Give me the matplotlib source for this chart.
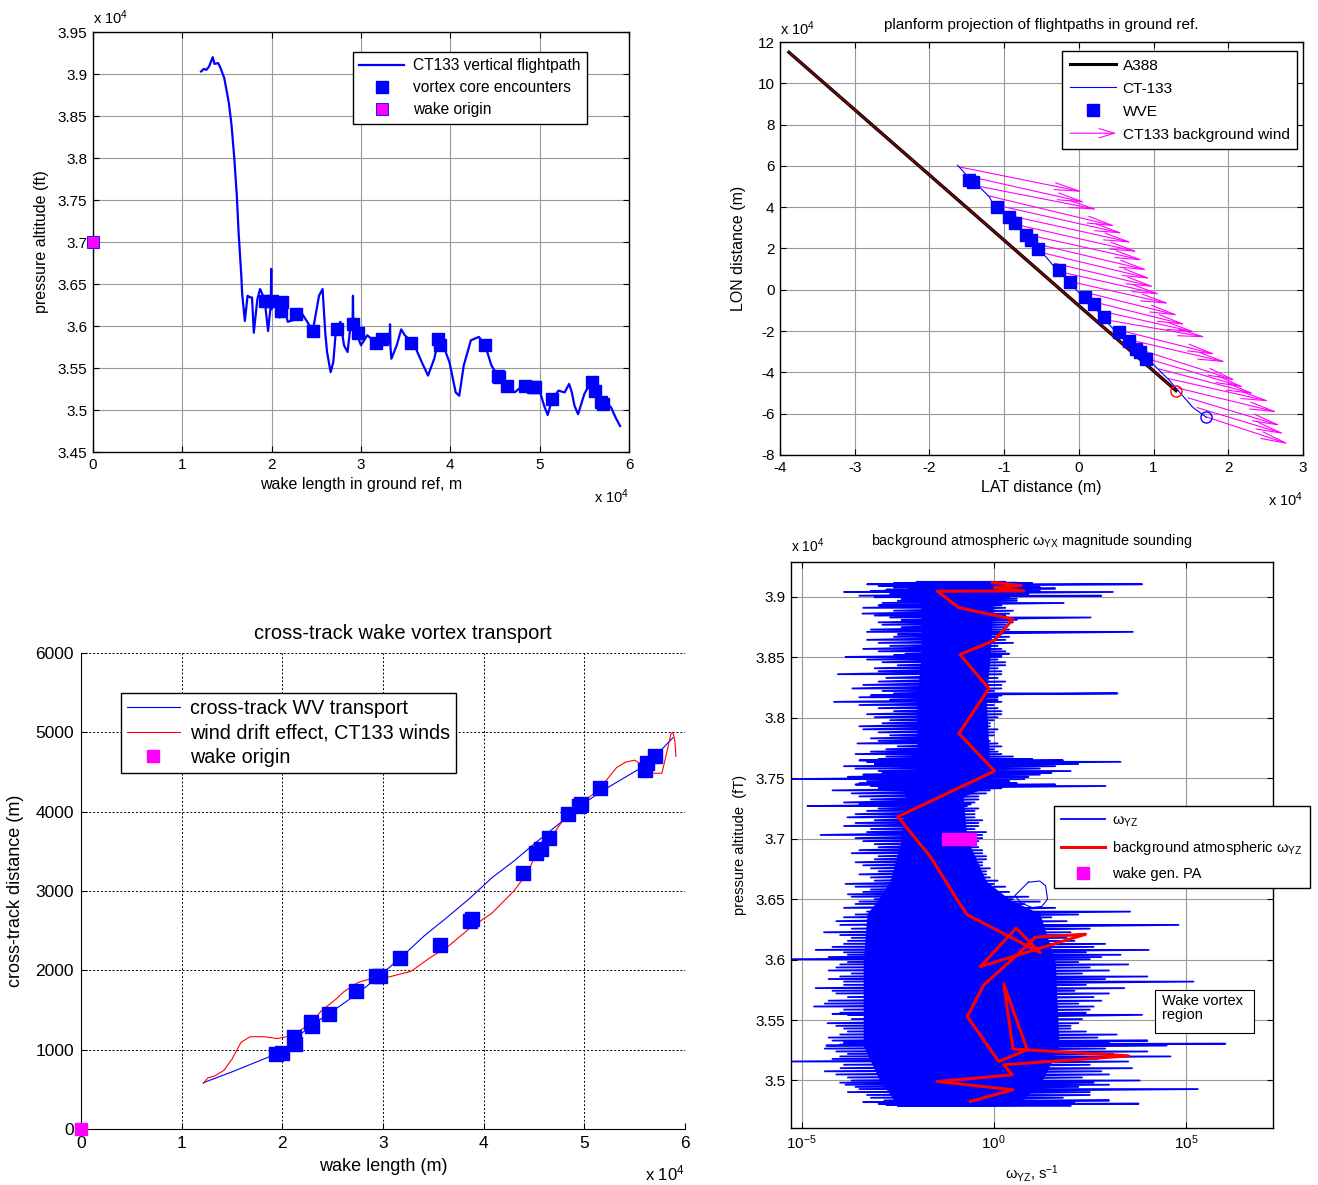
import numpy as np
import matplotlib
matplotlib.use("Agg")
import matplotlib.pyplot as plt
from matplotlib.lines import Line2D
from matplotlib.patches import FancyArrowPatch, Rectangle
from matplotlib.legend_handler import HandlerBase

plt.rcParams['font.family'] = ['Liberation Sans', 'DejaVu Sans']
plt.rcParams['mathtext.fontset'] = 'custom'
plt.rcParams['mathtext.rm'] = 'Liberation Sans'
plt.rcParams['mathtext.it'] = 'Liberation Sans:italic'
plt.rcParams['axes.unicode_minus'] = False

# ---------------------------------------------------------------
# vertical flightpath (x 1e4 m, x 1e4 ft)
# ---------------------------------------------------------------
fp_x = [1.21, 1.24, 1.27, 1.30, 1.34, 1.36, 1.40, 1.42, 1.47, 1.52, 1.55, 1.58,
        1.61, 1.63, 1.66, 1.67, 1.70, 1.73, 1.76, 1.78, 1.80, 1.84, 1.87, 1.92,
        1.96, 1.99, 1.995, 2.00, 2.01, 2.09, 2.13, 2.18, 2.27, 2.32, 2.41, 2.46,
        2.53, 2.57, 2.60, 2.62, 2.66, 2.69, 2.72, 2.77, 2.81, 2.85, 2.88, 2.905,
        2.91, 2.915, 2.93, 3.00, 3.07, 3.17, 3.26, 3.32, 3.325, 3.33, 3.34, 3.40,
        3.45, 3.49, 3.59, 3.68, 3.75, 3.82, 3.87, 3.92, 3.99, 4.06, 4.10, 4.15,
        4.23, 4.32, 4.39, 4.46, 4.53, 4.63, 4.72, 4.81, 4.93, 5.00, 5.05, 5.09,
        5.14, 5.21, 5.28, 5.33, 5.36, 5.39, 5.43, 5.50, 5.57, 5.61, 5.66, 5.76,
        5.80, 5.85, 5.90]
fp_alt = [3.903, 3.906, 3.905, 3.909, 3.920, 3.912, 3.913, 3.909, 3.895, 3.866,
          3.840, 3.802, 3.755, 3.711, 3.660, 3.638, 3.606, 3.636, 3.634, 3.634,
          3.592, 3.632, 3.644, 3.632, 3.594, 3.625, 3.668, 3.620, 3.632, 3.610,
          3.630, 3.605, 3.608, 3.618, 3.603, 3.594, 3.636, 3.644, 3.592, 3.569,
          3.545, 3.557, 3.596, 3.605, 3.577, 3.569, 3.598, 3.598, 3.636, 3.596,
          3.596, 3.577, 3.589, 3.580, 3.585, 3.580, 3.602, 3.575, 3.561, 3.577,
          3.596, 3.589, 3.579, 3.557, 3.541, 3.561, 3.585, 3.577, 3.557, 3.521,
          3.517, 3.553, 3.583, 3.587, 3.577, 3.553, 3.541, 3.529, 3.521, 3.529,
          3.529, 3.523, 3.505, 3.494, 3.513, 3.523, 3.521, 3.531, 3.521, 3.505,
          3.495, 3.519, 3.533, 3.525, 3.509, 3.507, 3.503, 3.491, 3.481]
enc_x = [1.93, 2.00, 2.10, 2.12, 2.27, 2.46, 2.73, 2.91, 2.97, 3.17, 3.24, 3.56,
         3.86, 3.88, 4.39, 4.53, 4.55, 4.63, 4.84, 4.93, 4.95, 5.14, 5.59, 5.62,
         5.69, 5.71]
enc_alt = [3.630, 3.630, 3.618, 3.628, 3.614, 3.594, 3.596, 3.602, 3.592, 3.580,
           3.585, 3.580, 3.585, 3.577, 3.577, 3.541, 3.539, 3.529, 3.529, 3.527,
           3.527, 3.513, 3.533, 3.523, 3.509, 3.507]
origin_alt = 3.70

# ---------------------------------------------------------------
# planform projection (x 1e4 m)
# ---------------------------------------------------------------
a388_lat = [-3.88, -3.0, -2.0, -1.0, 0.0, 1.0, 1.30]
a388_lon = [11.50, 8.72, 5.56, 2.40, -0.77, -3.93, -4.88]
ct_lat = [-1.622, -1.421, -1.331, -1.197, -1.153, -1.099, -0.929, -0.818, -0.705,
          -0.594, -0.527, -0.437, -0.326, -0.259, -0.125, 0.054, 0.188, 0.322,
          0.479, 0.613, 0.747, 0.881, 0.992, 1.082, 1.216, 1.350, 1.528, 1.708]
ct_lon = [6.03, 5.22, 4.98, 4.50, 4.17, 4.01, 3.53, 3.12, 2.64, 2.15, 1.91, 1.58,
          1.10, 0.86, 0.37, -0.36, -0.76, -1.33, -1.98, -2.43, -2.95, -3.35,
          -3.59, -3.92, -4.40, -4.97, -5.70, -6.18]
wve_lat = [-1.474, -1.421, -1.099, -0.929, -0.849, -0.714, -0.638, -0.549, -0.268,
           -0.125, 0.076, 0.197, 0.335, 0.536, 0.666, 0.769, 0.814, 0.903]
wve_lon = [5.34, 5.22, 4.01, 3.53, 3.23, 2.64, 2.39, 1.99, 0.94, 0.37, -0.33,
           -0.71, -1.30, -2.02, -2.46, -2.86, -3.03, -3.35]
wind_lat = [-1.60, -1.47, -1.35, -1.22, -1.09, -0.96, -0.84, -0.71, -0.58, -0.45,
            -0.33, -0.20, -0.07, 0.06, 0.18, 0.31, 0.44, 0.56, 0.69, 0.82, 0.95,
            1.07, 1.20, 1.33, 1.46, 1.58, 1.71]
wind_lon = [5.95, 5.49, 5.02, 4.56, 4.09, 3.62, 3.16, 2.69, 2.23, 1.76, 1.29, 0.83,
            0.36, -0.10, -0.57, -1.04, -1.50, -1.97, -2.43, -2.90, -3.37, -3.83,
            -4.30, -4.76, -5.23, -5.70, -6.16]
wind_u = [1.66, 1.57, 1.61, 1.72, 1.69, 1.68, 1.64, 1.58, 1.51, 1.42, 1.35, 1.30,
          1.29, 1.28, 1.26, 1.26, 1.27, 1.28, 1.29, 1.29, 1.27, 1.29, 1.36, 1.34,
          1.25, 1.18, 1.11]
wind_v = [-1.21, -1.27, -1.14, -1.49, -1.37, -1.34, -1.33, -1.27, -1.29, -1.23,
          -1.16, -1.06, -1.04, -1.15, -1.13, -1.02, -0.80, -1.17, -1.08, -1.50,
          -1.36, -1.22, -1.11, -1.18, -1.36, -1.29, -1.32]

# ---------------------------------------------------------------
# cross-track transport (x 1e4 m, m)
# ---------------------------------------------------------------
wv_x = [1.216, 1.50, 1.86, 1.94, 2.00, 2.13, 2.30, 2.46, 2.75, 2.97, 3.19, 3.41,
        3.64, 3.86, 4.08, 4.30, 4.52, 4.75, 4.97, 5.19, 5.41, 5.63, 5.88]
wv_y = [584, 720, 905, 955, 990, 1140, 1320, 1450, 1710, 1935, 2176, 2435, 2671,
        2906, 3165, 3377, 3613, 3848, 4084, 4272, 4437, 4602, 4932]
drift_x = [1.216, 1.26, 1.33, 1.42, 1.50, 1.59, 1.68, 1.82, 1.95, 2.04, 2.13, 2.26,
           2.39, 2.53, 2.61, 2.75, 2.88, 3.06, 3.28, 3.46, 3.64, 3.86, 4.08, 4.30,
           4.44, 4.52, 4.66, 4.79, 4.97, 5.14, 5.32, 5.41, 5.50, 5.59, 5.68, 5.77,
           5.81, 5.86, 5.88, 5.90, 5.91]
drift_y = [575, 645, 669, 740, 881, 1093, 1163, 1163, 1140, 1163, 1211, 1305, 1493,
           1634, 1729, 1847, 1894, 1917, 1988, 2153, 2294, 2529, 2718, 3000, 3236,
           3471, 3660, 3895, 4107, 4272, 4555, 4625, 4649, 4578, 4484, 4484, 4696,
           4979, 5002, 4885, 4696]
xt_enc_x = [1.94, 2.00, 2.12, 2.13, 2.28, 2.29, 2.46, 2.73, 2.93, 2.97, 3.17, 3.57,
            3.86, 3.88, 4.39, 4.52, 4.57, 4.65, 4.84, 4.95, 4.97, 5.16, 5.60, 5.62,
            5.70]
xt_enc_y = [951, 961, 1163, 1069, 1352, 1295, 1446, 1738, 1927, 1927, 2153, 2317,
            2624, 2647, 3222, 3481, 3528, 3674, 3976, 4070, 4093, 4296, 4531, 4616,
            4696]

# ---------------------------------------------------------------
# omega_YZ sounding (log10 s^-1, ft)
# long excursions of the trace
# ---------------------------------------------------------------
snd_alt = [39125, 39105, 39080, 39060, 39041, 39010, 38985, 38950, 38910, 38862,
           38830, 38790, 38750, 38711, 38670, 38620, 38570, 38530, 38504, 38460,
           38410, 38361, 38300, 38243, 38202, 38170, 38132, 38080, 38030, 37980,
           37930, 37880, 37830, 37788, 37740, 37700, 37660, 37636, 37600, 37560,
           37530, 37493, 37460, 37436, 37400, 37350, 37300, 37270, 37230, 37177,
           37130, 37080, 37031, 36980, 36930, 36880, 36830, 36780, 36730, 36680,
           36626, 36580, 36540, 36500, 36460, 36397, 36350, 36287, 36226, 36180,
           36130, 36080, 36040, 36003, 35960, 35910, 35860, 35818, 35764, 35720,
           35660, 35612, 35560, 35543, 35474, 35430, 35380, 35330, 35304, 35289,
           35240, 35199, 35157, 35102, 35050, 35000, 34965, 34929, 34880, 34835,
           34808, 34790]
snd_left = [-2.0, -3.3, -2.6, -2.8, -3.9, -3.5, -2.4, -2.9, -3.4, -3.42, -2.7, -3.0,
            -2.4, -3.3, -2.6, -3.0, -3.4, -2.3, -3.86, -2.9, -3.1, -4.06, -3.0, -3.68,
            -2.6, -3.5, -4.16, -3.0, -3.3, -2.7, -3.5, -3.0, -3.2, -3.55, -2.8, -3.6,
            -3.0, -3.3, -3.9, -3.0, -3.4, -5.4, -3.5, -3.2, -4.2, -3.5, -3.9, -4.85,
            -3.3, -3.81, -3.6, -3.2, -4.51, -3.4, -3.0, -3.7, -3.1, -3.4, -3.0, -3.2,
            -3.86, -3.2, -3.8, -3.1, -3.6, -3.3, -3.9, -4.0, -4.42, -3.7, -3.9, -4.64,
            -3.8, -5.4, -4.0, -4.3, -4.0, -3.9, -4.64, -4.1, -4.3, -4.68, -4.0, -3.8,
            -4.33, -3.9, -4.0, -4.2, -3.9, -4.36, -4.1, -4.0, -5.4, -3.99, -4.1, -3.7,
            -3.86, -3.5, -3.3, -2.85, -3.0, -2.5]
snd_right = [0.3, 3.86, 1.2, 0.9, 3.1, 2.8, 0.6, 1.82, 0.3, 0.4, 2.52, 0.5, 0.3,
             3.62, 0.4, 0.5, 0.2, 0.4, 0.2, 0.3, 0.1, 0.2, 0.3, 0.2, 3.22, 0.1, 0.2,
             0.1, 0.2, 0.0, -0.1, 0.0, -0.2, 0.1, 0.0, 0.2, 1.0, 3.3, 1.6, 2.0, 1.2,
             0.8, 0.6, 2.91, -0.1, -0.4, -0.5, -0.7, -0.5, -0.5, -0.4, -0.5, -0.3,
             -0.4, -0.4, -0.3, -0.2, -0.3, -0.2, -0.1, 0.0, 0.0, 0.1, 0.5, 0.8, 3.55,
             1.5, 4.81, 2.0, 1.9, 2.9, 4.03, 3.3, 2.5, 3.5, 3.0, 4.0, 5.20, 3.4, 3.0,
             2.8, 2.6, 2.4, 3.86, 2.2, 2.0, 3.2, 4.0, 6.03, 4.5, 4.0, 4.6, 3.5, 3.6,
             3.0, 3.8, 3.0, 5.31, 2.5, 3.0, 3.77, 2.0]
# shorter excursions in between
snd_alt2 = [39115, 39092, 39070, 39050, 39025, 38998, 38968, 38930, 38886, 38846,
            38810, 38770, 38730, 38690, 38645, 38595, 38550, 38517, 38482, 38435,
            38385, 38330, 38272, 38222, 38186, 38150, 38106, 38055, 38005, 37955,
            37905, 37855, 37809, 37764, 37720, 37680, 37648, 37618, 37580, 37545,
            37512, 37476, 37448, 37418, 37375, 37325, 37285, 37250, 37203, 37153,
            37105, 37055, 37005, 36955, 36905, 36855, 36805, 36755, 36705, 36653,
            36603, 36560, 36520, 36480, 36428, 36373, 36318, 36256, 36203, 36155,
            36105, 36060, 36021, 35980, 35935, 35885, 35839, 35791, 35742, 35690,
            35636, 35586, 35551, 35508, 35452, 35405, 35355, 35317, 35296, 35264,
            35220, 35178, 35130, 35076, 35025, 34982, 34947, 34904, 34857, 34821,
            34799]
snd_left2 = [-2.6, -3.0, -2.2, -3.2, -2.7, -3.1, -2.5, -3.0, -2.6, -3.1,
             -2.4, -2.9, -3.2, -2.5, -3.3, -2.7, -3.0, -2.6, -3.3, -2.5,
             -3.0, -2.8, -3.4, -2.9, -3.2, -2.7, -3.5, -2.6, -3.1, -2.9,
             -3.4, -2.7, -3.0, -2.5, -3.2, -2.8, -3.5, -3.1, -3.6, -2.9,
             -3.8, -3.3, -3.6, -3.0, -3.7, -3.2, -3.5, -3.0, -3.6, -3.1,
             -3.9, -3.3, -3.6, -3.1, -3.5, -3.0, -3.6, -3.2, -3.5, -3.1,
             -3.6, -3.4, -3.7, -3.5, -3.9, -3.6, -4.1, -3.7, -4.0, -3.8,
             -4.2, -3.9, -4.3, -3.8, -4.1, -3.7, -4.3, -3.9, -4.2, -3.8,
             -4.4, -3.9, -4.2, -3.7, -4.1, -3.8, -4.3, -3.9, -4.0, -4.4,
             -3.8, -4.2, -3.9, -4.4, -3.8, -4.0, -3.6, -3.8, -3.2, -3.4,
             -2.8]
snd_right2 = [1.0, 0.8, 1.6, 1.2, 0.9, 0.4, 0.6, 0.2, 0.5, 0.3,
              0.6, 0.3, 0.4, 0.2, 0.3, 0.1, 0.3, 0.2, 0.1, 0.3,
              0.2, 0.1, 0.2, 0.0, 0.2, 0.1, 0.0, 0.2, 0.1, -0.1,
              0.1, 0.0, -0.1, 0.2, 0.1, 0.5, 1.8, 2.2, 1.2, 1.5,
              0.9, 0.4, 1.6, 0.2, -0.2, -0.4, -0.6, -0.4, -0.5, -0.3,
              -0.4, -0.2, -0.3, -0.5, -0.3, -0.2, -0.3, -0.1, -0.2, 0.1,
              0.3, 0.4, 0.9, 1.2, 1.6, 2.2, 1.9, 2.5, 2.3, 2.1,
              2.6, 2.4, 2.8, 2.2, 2.5, 2.3, 2.9, 2.4, 2.1, 2.6,
              2.2, 2.5, 2.0, 2.3, 2.0, 2.4, 2.7, 3.0, 3.3, 2.9,
              3.1, 2.7, 2.5, 2.8, 2.3, 2.6, 2.2, 2.5, 1.8, 2.1,
              1.5]
core_alt = [39130, 39030, 38990, 38500, 38150, 37600, 37450, 37350, 37000, 36650,
            36500, 36380, 35980, 35290, 35020, 34790]
core_left = [-1.8, -1.8, -1.9, -1.9, -2.0, -2.0, -2.4, -2.3, -2.4, -2.7, -3.0, -3.3,
             -3.4, -3.4, -3.0, -2.5]
core_right = [0.6, 0.6, 0.0, -0.1, -0.2, -0.1, 0.0, -0.8, -0.7, -0.2, 0.4, 1.2, 1.6,
              1.7, 1.3, 0.6]
loop_w = [0.90, 1.20, 1.35, 1.40, 1.25, 1.00, 0.70, 0.55, 0.90]
loop_alt = [36640, 36650, 36610, 36500, 36440, 36430, 36470, 36530, 36640]
bg_w = [-0.04, 0.71, 0.02, 0.78, -1.47, -0.91, 0.50, 0.02, -0.88, -0.13, -0.91,
        0.02, -2.50, -1.65, -0.95, -0.69, 1.21, 0.58, -0.35, 2.39, 1.08, 0.61,
        -0.26, -0.69, 0.13, 0.87, 0.26, 0.50, 3.51, 0.26, 0.48, -1.47, 0.50, -0.61]
bg_alt = [39121, 39094, 39078, 39050, 39047, 38912, 38816, 38642, 38524, 38243,
          37871, 37560, 37182, 36851, 36494, 36370, 36058, 36260, 35942, 36210,
          36185, 36039, 35791, 35529, 35157, 35254, 35800, 35260, 35204, 35130,
          35047, 34992, 34923, 34827]
pa_w = [-1.19, -0.86, -0.62]
pa_alt = [37000, 37000, 37000]


class ArrowHandler(HandlerBase):
    def create_artists(self, legend, orig, xd, yd, width, height, fontsize, trans):
        y = yd + height / 2
        arr = FancyArrowPatch((xd, y), (xd + width, y),
                              arrowstyle='->,head_length=1.0,head_width=0.3',
                              mutation_scale=fontsize, color='magenta', lw=0.8,
                              shrinkA=0, shrinkB=0, transform=trans)
        return [arr]


def matlab_axes(ax, grid_style='-', grid_color='0.6'):
    ax.tick_params(direction='in', top=True, right=True, length=4, width=0.8,
                   labelsize=11, pad=4)
    ax.grid(True, linestyle=grid_style, color=grid_color, lw=0.8)
    ax.set_axisbelow(True)
    for s in ax.spines.values():
        s.set_linewidth(1.0)


def leg_frame(leg):
    f = leg.get_frame()
    f.set_edgecolor('black')
    f.set_linewidth(1.0)
    f.set_alpha(1.0)


fig = plt.figure(figsize=(13.18, 11.85), dpi=100)
W, H = 1318, 1185


def add_ax(l, r, t, b):
    return fig.add_axes([l / W, 1 - b / H, (r - l) / W, (b - t) / H])


# ---- vertical flightpath ----
ax1 = add_ax(93, 629, 32, 452)
matlab_axes(ax1)
ax1.plot(fp_x, fp_alt, color='blue', lw=1.6, label='CT133 vertical flightpath')
ax1.plot(enc_x, enc_alt, 's', color='blue', ms=8, ls='none',
         label='vortex core encounters')
ax1.plot([0], [origin_alt], 's', color='magenta', mec='blue', mew=0.6, ms=8,
         ls='none', clip_on=False, zorder=5, label='wake origin')
ax1.set_xlim(0, 6)
ax1.set_ylim(3.45, 3.95)
ax1.set_xticks(range(0, 7))
ax1.set_yticks(np.arange(3.45, 3.951, 0.05))
ax1.set_yticklabels(['%g' % v for v in np.round(np.arange(3.45, 3.951, 0.05), 2)])
ax1.set_xlabel('wake length in ground ref, m', fontsize=11.5, labelpad=4)
ax1.set_ylabel('pressure altitude (ft)', fontsize=11.5, labelpad=6)
ax1.text(0.0, 1.012, r'x 10$^{4}$', transform=ax1.transAxes, fontsize=10.5,
         ha='left', va='bottom')
ax1.text(1.0, -0.085, r'x 10$^{4}$', transform=ax1.transAxes, fontsize=10.5,
         ha='right', va='top')
leg1 = ax1.legend(loc='upper right', bbox_to_anchor=(0.922, 0.952),
                  borderaxespad=0, fontsize=11.2, fancybox=False,
                  handlelength=2.9, handletextpad=0.6, labelspacing=0.45,
                  borderpad=0.4)
leg_frame(leg1)

# ---- planform projection ----
ax2 = add_ax(780, 1303, 42, 455)
matlab_axes(ax2)
for x0, y0, u, v in zip(wind_lat, wind_lon, wind_u, wind_v):
    ax2.annotate('', xy=(x0 + u, y0 + v), xytext=(x0, y0),
                 arrowprops=dict(arrowstyle='->,head_length=1.8,head_width=0.25',
                                 color='magenta', lw=0.8, shrinkA=0, shrinkB=0))
ax2.plot(a388_lat, a388_lon, color='black', lw=2.4, zorder=3)
ax2.plot(a388_lat, a388_lon, color='#a00000', lw=0.9, zorder=3)
ax2.plot(ct_lat, ct_lon, color='blue', lw=0.8, zorder=3)
ax2.plot(wve_lat, wve_lon, 's', color='blue', ms=9, zorder=4)
ax2.plot(a388_lat[-1], a388_lon[-1], 'o', mfc='none', mec='red', ms=8, zorder=4)
ax2.plot(ct_lat[-1], ct_lon[-1], 'o', mfc='none', mec='blue', ms=8, zorder=4)
ax2.set_xlim(-4, 3)
ax2.set_ylim(-8, 12)
ax2.set_xticks(range(-4, 4))
ax2.set_yticks(range(-8, 13, 2))
ax2.set_title('planform projection of flightpaths in ground ref.', fontsize=11,
              pad=9)
ax2.set_xlabel('LAT distance (m)', fontsize=11.5, labelpad=4)
ax2.set_ylabel('LON distance (m)', fontsize=11.5, labelpad=8)
ax2.text(0.0, 1.01, r'x 10$^{4}$', transform=ax2.transAxes, fontsize=10.5,
         ha='left', va='bottom')
ax2.text(1.0, -0.085, r'x 10$^{4}$', transform=ax2.transAxes, fontsize=10.5,
         ha='right', va='top')
wind_proxy = Line2D([], [], color='magenta')
h2 = [Line2D([], [], color='black', lw=2.2), Line2D([], [], color='blue', lw=0.8),
      Line2D([], [], color='blue', marker='s', ls='none', ms=8), wind_proxy]
leg2 = ax2.legend(h2, ['A388', 'CT-133', 'WVE', 'CT133 background wind'],
                  handler_map={wind_proxy: ArrowHandler()},
                  loc='upper right', bbox_to_anchor=(0.989, 0.978),
                  borderaxespad=0, fontsize=11.1, fancybox=False,
                  handlelength=3.0, handletextpad=0.4, labelspacing=0.58,
                  borderpad=0.5)
leg_frame(leg2)

# ---- cross-track transport ----
ax3 = add_ax(81, 685, 653, 1129)
ax3.tick_params(direction='in', length=4, labelsize=12.5, pad=5)
ax3.grid(True, linestyle=(0, (2, 2)), color='black', lw=0.7)
ax3.spines['top'].set_visible(False)
ax3.spines['right'].set_visible(False)
ax3.plot(wv_x, wv_y, color='blue', lw=0.8, label='cross-track WV transport')
ax3.plot(drift_x, drift_y, color='red', lw=0.8,
         label='wind drift effect, CT133 winds')
ax3.plot(xt_enc_x, xt_enc_y, 's', color='blue', ms=10, zorder=4)
ax3.plot([0], [0], 's', color='magenta', ms=9, clip_on=False, zorder=5,
         label='wake origin')
ax3.set_xlim(0, 6)
ax3.set_ylim(0, 6000)
ax3.set_xticks(range(0, 7))
ax3.set_yticks(range(0, 6001, 1000))
ax3.set_title('cross-track wake vortex transport', fontsize=14.5, pad=10,
              x=0.533)
ax3.set_xlabel('wake length (m)', fontsize=13, labelpad=5)
ax3.set_ylabel('cross-track distance (m)', fontsize=13, labelpad=8)
ax3.text(1.0, -0.072, r'x 10$^{4}$', transform=ax3.transAxes, fontsize=12,
         ha='right', va='top')
leg3 = ax3.legend(loc='upper left', bbox_to_anchor=(0.066, 0.916),
                  borderaxespad=0, fontsize=14.2, fancybox=False,
                  handlelength=2.7, handletextpad=0.5, labelspacing=0.28,
                  borderpad=0.3)
leg_frame(leg3)

# ---- omega_YZ sounding ----
ax4 = add_ax(791, 1273, 562, 1128)
matlab_axes(ax4)
ax4.set_xscale('log')
trace_alt = np.concatenate([snd_alt, snd_alt2]) / 1e4
trace_left = np.concatenate([snd_left, snd_left2])
trace_right = np.concatenate([snd_right, snd_right2])
order = np.argsort(-trace_alt)
zig_w = np.ravel(np.column_stack([trace_left[order], trace_right[order]]))
zig_alt = np.ravel(np.column_stack([trace_alt[order], trace_alt[order]]))
ax4.fill_betweenx(np.array(core_alt) / 1e4, 10.0 ** np.array(core_left),
                  10.0 ** np.array(core_right), color='blue', lw=0)
ax4.plot(10.0 ** zig_w, zig_alt, color='blue', lw=1.3, label=r'ω$_{\mathrm{YZ}}$')
ax4.plot(10.0 ** np.array(loop_w), np.array(loop_alt) / 1e4, color='blue', lw=0.8)
ax4.plot(10.0 ** np.array(bg_w), np.array(bg_alt) / 1e4, color='red', lw=2.2,
         label=r'background atmospheric ω$_{\mathrm{YZ}}$')
ax4.plot(10.0 ** np.array(pa_w), np.array(pa_alt) / 1e4, 's', color='magenta',
         ms=8, ls='none', label='wake gen. PA')
ax4.set_xlim(10 ** -5.28, 10 ** 7.27)
ax4.set_ylim(3.4607, 3.9289)
ax4.set_xticks([1e-5, 1e0, 1e5])
ax4.set_xticklabels([r'10$^{-5}$', r'10$^{0}$', r'10$^{5}$'])
ax4.xaxis.set_minor_locator(matplotlib.ticker.NullLocator())
ax4.set_yticks(np.arange(3.5, 3.901, 0.05))
ax4.set_yticklabels(['%g' % v for v in np.round(np.arange(3.5, 3.901, 0.05), 2)])
ax4.set_title(r'background atmospheric ω$_{\mathrm{YX}}$ magnitude sounding',
              fontsize=10.4, pad=12)
ax4.set_xlabel(r'ω$_{\mathrm{YZ}}$, s$^{-1}$', fontsize=10.5, labelpad=8)
ax4.set_ylabel('pressure altitude  (fT)', fontsize=10.5, labelpad=6)
ax4.text(0.0, 1.012, r'x 10$^{4}$', transform=ax4.transAxes, fontsize=10,
         ha='left', va='bottom')
leg4 = ax4.legend(loc='upper left', bbox_to_anchor=(0.546, 0.569),
                  borderaxespad=0, fontsize=10.5, fancybox=False,
                  handlelength=3.0, handletextpad=0.45, labelspacing=0.7,
                  borderpad=0.5)
leg_frame(leg4)
ax4.add_patch(Rectangle((0.755, 0.168), 0.205, 0.076, transform=ax4.transAxes,
                        facecolor='white', edgecolor='black', lw=0.8, zorder=6))
ax4.text(0.77, 0.236, 'Wake vortex\nregion', transform=ax4.transAxes,
         fontsize=10.5, ha='left', va='top', linespacing=1.0, zorder=7)

fig.savefig('out.png', dpi=100)
